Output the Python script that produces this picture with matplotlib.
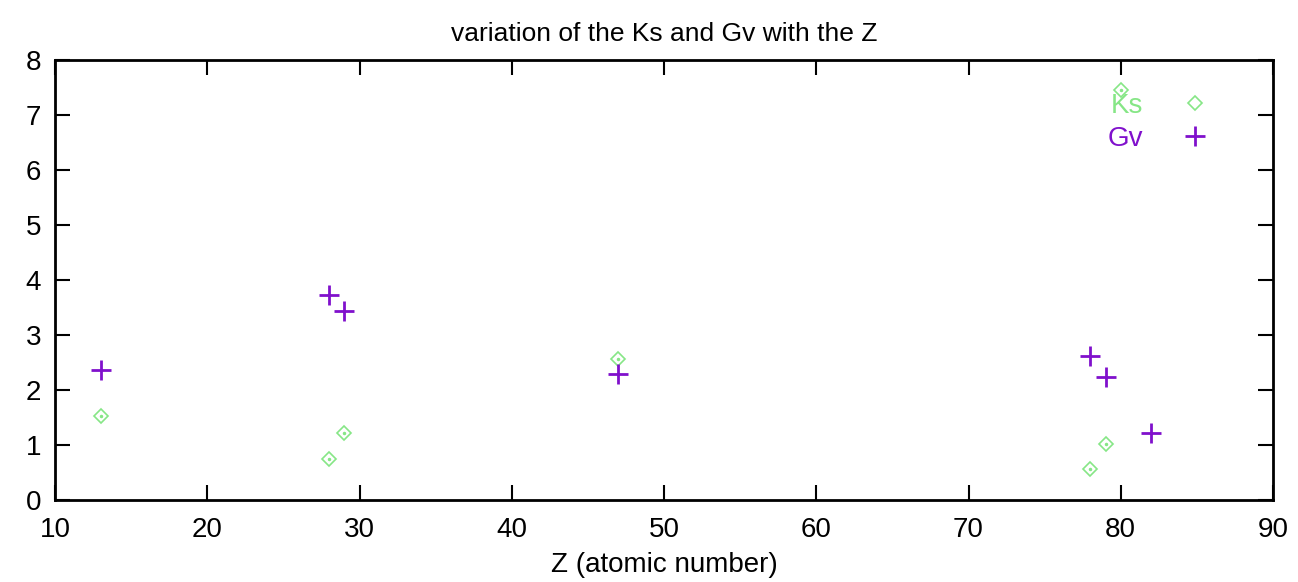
import matplotlib
matplotlib.use("Agg")
import matplotlib.pyplot as plt

plt.rcParams['font.family'] = ['Liberation Sans', 'DejaVu Sans']

z_ks = [13, 28, 29, 47, 78, 79, 80]
ks = [1.53, 0.75, 1.22, 2.57, 0.56, 1.02, 7.45]
z_gv = [13, 28, 29, 47, 78, 79, 82]
gv = [2.37, 3.73, 3.44, 2.30, 2.61, 2.24, 1.22]

xticks = [10, 20, 30, 40, 50, 60, 70, 80, 90]
yticks = [0, 1, 2, 3, 4, 5, 6, 7, 8]

ks_color = '#86e686'
gv_color = '#8010cc'

fig = plt.figure(figsize=(12.98, 5.82), dpi=100)
ax = fig.add_axes([55/1298, 1-500/582, (1273-55)/1298, (500-60)/582])

ax.plot(z_ks, ks, linestyle='none', marker='D', markersize=7.5, markerfacecolor='none',
        markeredgecolor=ks_color, markeredgewidth=1.2, color=ks_color, label='Ks')
ax.plot(z_ks, ks, linestyle='none', marker='.', markersize=3, color=ks_color)
ax.plot(z_gv, gv, linestyle='none', marker='+', markersize=14, markeredgewidth=2,
        color=gv_color, label='Gv')

ax.set_xlim(10, 90)
ax.set_ylim(0, 8)
ax.set_xticks(xticks)
ax.set_yticks(yticks)
ax.tick_params(direction='in', length=11, width=1.5, top=True, right=True,
               labelsize=20)
ax.tick_params(axis='x', pad=12)
ax.tick_params(axis='y', pad=10)
for s in ax.spines.values():
    s.set_linewidth(2)

ax.set_xlabel('Z (atomic number)', fontsize=20, labelpad=7)
ax.set_title('variation of the Ks and Gv with the Z', fontsize=19, pad=14)

leg = ax.legend(loc='upper right', markerfirst=False, frameon=False, fontsize=20,
                labelcolor='linecolor', handlelength=1.5, handletextpad=1.1,
                borderaxespad=0.0, labelspacing=0.25, bbox_to_anchor=(0.962, 0.95))

fig.savefig('out.png', dpi=100)
